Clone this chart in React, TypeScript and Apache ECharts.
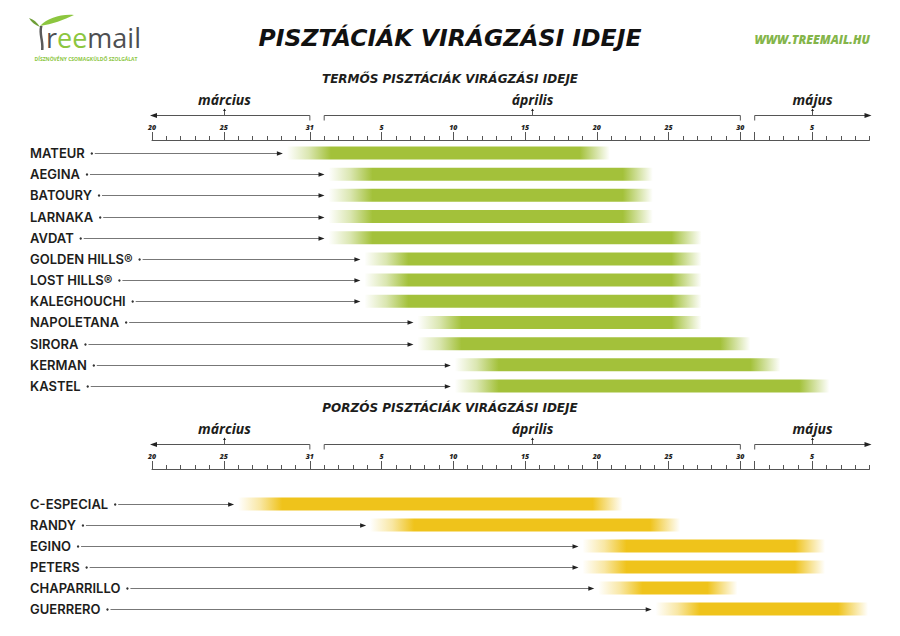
import React, { useEffect, useRef } from "react";
import * as echarts from "echarts";

// Day index 0 = március 20 on the shared time axis
const majorTickDays = [0, 5, 11, 16, 21, 26, 31, 36, 41, 42, 46];
const tickLabelDays = [0, 5, 11, 16, 21, 26, 31, 36, 41, 46];
const tickLabelTexts = ["20", "25", "31", "5", "10", "15", "20", "25", "30", "5"];

const monthNames = ["március", "április", "május"];
const monthFrom = [0, 12, 42];
const monthTo = [11, 41, 50];
const monthMark = [5, 26.5, 46];

const mainTitle = "PISZTÁCIÁK VIRÁGZÁSI IDEJE";
const fertileTitle = "TERMŐS PISZTÁCIÁK VIRÁGZÁSI IDEJE";
const pollenTitle = "PORZÓS PISZTÁCIÁK VIRÁGZÁSI IDEJE";
const website = "WWW.TREEMAIL.HU";
const logoTagline = "DÍSZNÖVÉNY CSOMAGKÜLDŐ SZOLGÁLAT";

const fertileNames = [
  "MATEUR", "AEGINA", "BATOURY", "LARNAKA", "AVDAT", "GOLDEN HILLS®",
  "LOST HILLS®", "KALEGHOUCHI", "NAPOLETANA", "SIRORA", "KERMAN", "KASTEL",
];
const fertileStart = [9.4, 12.3, 12.3, 12.3, 12.3, 14.8, 14.8, 14.8, 18.5, 18.5, 21.1, 21.1];
const fertileEnd = [31.9, 34.9, 34.9, 34.9, 38.3, 38.3, 38.3, 38.3, 38.3, 41.7, 43.8, 47.2];

const pollenNames = ["C-ESPECIAL", "RANDY", "EGINO", "PETERS", "CHAPARRILLO", "GUERRERO"];
const pollenStart = [6.0, 15.2, 30.0, 30.0, 31.1, 35.1];
const pollenEnd = [32.8, 36.8, 46.9, 46.9, 40.8, 49.9];

const FONT = "'Open Sans', 'Noto Sans', sans-serif";
const WIDE = "'DejaVu Sans', 'Open Sans', sans-serif";
const LABEL_FONT = "Inter, 'Open Sans', sans-serif";
const LABEL_X = 30;
const LABEL_SIZE = 13;
const LABEL_WEIGHT = 600;
const GREEN = "163,193,58";
const YELLOW = "239,195,27";
const TOP_BASE = 140;
const BOT_BASE = 469;

let measureCtx: CanvasRenderingContext2D | null = null;
function textWidth(t: string): number {
  if (!measureCtx) measureCtx = document.createElement("canvas").getContext("2d");
  if (!measureCtx) return t.length * 8;
  measureCtx.font = `${LABEL_WEIGHT} ${LABEL_SIZE}px ${LABEL_FONT}`;
  return measureCtx.measureText(t).width;
}

const xAxesFor = (gridIndex: number, offset: number) => [
  {
    type: "value", gridIndex, min: 0, max: 50, interval: 1, position: "top", offset,
    axisLine: { show: true, lineStyle: { color: "#555", width: 1 } },
    axisTick: { show: true, length: 4, lineStyle: { color: "#555" } },
    axisLabel: { show: false },
    splitLine: { show: false },
  },
  {
    type: "value", gridIndex, min: 0, max: 50, interval: 1, position: "top", offset,
    axisLine: { show: false },
    axisTick: { show: true, length: 8, customValues: majorTickDays, lineStyle: { color: "#555" } },
    axisLabel: {
      show: true, customValues: tickLabelDays, margin: 9,
      formatter: (v: number) => { const i = tickLabelDays.indexOf(v); return i >= 0 ? tickLabelTexts[i] : ""; },
      fontSize: 7, fontStyle: "italic", fontWeight: 800, color: "#222", fontFamily: FONT,
    },
    splitLine: { show: false },
  },
];

const yAxisFor = (gridIndex: number, names: string[]) => ({
  type: "category", gridIndex, data: names, inverse: true,
  axisLine: { show: false }, axisTick: { show: false }, splitLine: { show: false },
  axisLabel: {
    align: "left", margin: 122, fontSize: LABEL_SIZE, fontWeight: LABEL_WEIGHT,
    color: "#1d1d1b", fontFamily: LABEL_FONT,
  },
});

const barRender = (rgb: string) => (_p: any, api: any) => {
  const cat = api.value(0);
  const a = api.coord([api.value(1), cat]);
  const b = api.coord([api.value(2), cat]);
  const w = b[0] - a[0];
  const h = 13;
  const fi = Math.min(0.4, 44 / w);
  const fo = Math.min(0.3, 30 / w);
  return {
    type: "rect",
    shape: { x: a[0], y: a[1] - h / 2, width: w, height: h },
    style: {
      fill: new echarts.graphic.LinearGradient(0, 0, 1, 0, [
        { offset: 0, color: `rgba(${rgb},0)` },
        { offset: fi * 0.5, color: `rgba(${rgb},0.4)` },
        { offset: fi, color: `rgba(${rgb},1)` },
        { offset: 1 - fo, color: `rgba(${rgb},1)` },
        { offset: 1 - fo * 0.45, color: `rgba(${rgb},0.45)` },
        { offset: 1, color: `rgba(${rgb},0)` },
      ]),
    },
  };
};

const arrowRender = (names: string[]) => (_p: any, api: any) => {
  const idx = api.value(0);
  const p = api.coord([api.value(1), idx]);
  const y = Math.round(p[1]) + 0.5;
  const x0 = LABEL_X + textWidth(names[idx]) + 7;
  const tip = p[0] - 4;
  return {
    type: "group",
    children: [
      { type: "circle", shape: { cx: x0, cy: y, r: 1.2 }, style: { fill: "#333" } },
      { type: "line", shape: { x1: x0 + 3, y1: y, x2: tip - 4, y2: y }, style: { stroke: "#777", lineWidth: 1 } },
      { type: "polygon", shape: { points: [[tip, y], [tip - 6, y - 2.3], [tip - 6, y + 2.3]] }, style: { fill: "#222" } },
    ],
  };
};

const monthRender = (base: number) => (_p: any, api: any) => {
  const i = api.value(3);
  const xa = api.coord([api.value(0), 0])[0];
  const xb = api.coord([api.value(1), 0])[0];
  const xm = Math.round(api.coord([api.value(2), 0])[0]) + 0.5;
  const ly = base - 25 + 0.5;
  const stroke = { stroke: "#555", lineWidth: 1 };
  const children: any[] = [
    { type: "line", shape: { x1: xa, y1: ly, x2: xb, y2: ly }, style: stroke },
    { type: "line", shape: { x1: xm, y1: ly, x2: xm, y2: ly - 5 }, style: stroke },
    { type: "polygon", shape: { points: [[xm, ly - 7], [xm - 1.5, ly - 4.5], [xm + 1.5, ly - 4.5]] }, style: { fill: "#222" } },
    {
      type: "text", x: xm, y: base - 41,
      style: {
        text: monthNames[i], align: "center", verticalAlign: "middle",
        fontSize: 14, fontStyle: "italic", fontWeight: 700, fill: "#1d1d1b", fontFamily: FONT,
      },
    },
  ];
  if (i === 0) {
    children.push({ type: "polygon", shape: { points: [[xa - 2, ly], [xa + 5, ly - 2.5], [xa + 5, ly + 2.5]] }, style: { fill: "#222" } });
  } else {
    children.push({ type: "line", shape: { x1: xa, y1: ly, x2: xa, y2: ly + 5 }, style: stroke });
  }
  if (i === monthNames.length - 1) {
    children.push({ type: "polygon", shape: { points: [[xb + 2, ly], [xb - 5, ly - 2.5], [xb - 5, ly + 2.5]] }, style: { fill: "#222" } });
  } else {
    children.push({ type: "line", shape: { x1: xb, y1: ly, x2: xb, y2: ly + 5 }, style: stroke });
  }
  return { type: "group", children };
};

const monthData = monthNames.map((_n, i) => [monthFrom[i], monthTo[i], monthMark[i], i]);

echarts.graphic.registerShape(
  "leafRight",
  echarts.graphic.extendPath("M0,11 C8,3 20,-1 34,0 C24,5 12,9 0,11 Z", {})
);
echarts.graphic.registerShape(
  "leafLeft",
  echarts.graphic.extendPath("M11,10 C8,5 4,2 0,1 C2,5 6,8 11,10 Z", {})
);
echarts.graphic.registerShape(
  "stem",
  echarts.graphic.extendPath("M1,0 C-1,8 3,15 2,24 L4.5,24 C5.5,15 1.5,8 3.5,0 Z", {})
);

export default function App() {
  const ref = useRef<HTMLDivElement>(null);
  useEffect(() => {
    if (!ref.current) return;
    const chart = echarts.init(ref.current, undefined, { renderer: "svg" });
    const option: any = {
      animation: false,
      backgroundColor: "#ffffff",
      grid: [
        { left: 152, right: 30.5, top: 142.4, height: 254.2 },
        { left: 152, right: 30.5, top: 493.5, height: 126 },
      ],
      xAxis: [...xAxesFor(0, 142.4 - TOP_BASE), ...xAxesFor(1, 493.5 - BOT_BASE)],
      yAxis: [yAxisFor(0, fertileNames), yAxisFor(1, pollenNames)],
      graphic: [
        {
          type: "text", x: 450, y: 38,
          style: {
            text: mainTitle, align: "center", verticalAlign: "middle",
            fontSize: 23.5, fontStyle: "italic", fontWeight: 700, fill: "#111", fontFamily: WIDE,
          },
        },
        {
          type: "text", x: 450, y: 79,
          style: {
            text: fertileTitle, align: "center", verticalAlign: "middle",
            fontSize: 12, fontStyle: "italic", fontWeight: 700, fill: "#1d1d1b", fontFamily: WIDE,
          },
        },
        {
          type: "text", x: 450, y: 408,
          style: {
            text: pollenTitle, align: "center", verticalAlign: "middle",
            fontSize: 12, fontStyle: "italic", fontWeight: 700, fill: "#1d1d1b", fontFamily: WIDE,
          },
        },
        {
          type: "text", x: 870, y: 39,
          style: {
            text: website, align: "right", verticalAlign: "middle",
            fontSize: 12, fontStyle: "italic", fontWeight: 800, fill: "#84b54a", fontFamily: FONT,
          },
        },
        { type: "stem", x: 39, y: 26, style: { fill: "#5a5a5a" } },
        { type: "leafRight", x: 40, y: 15, style: { fill: "#8cc63f" } },
        { type: "leafLeft", x: 29, y: 17, style: { fill: "#6e9e37" } },
        {
          type: "text", x: 46, y: 51,
          style: {
            text: "{a|r}{b|ee}{a|mail}", verticalAlign: "bottom", fontFamily: FONT,
            rich: {
              a: { fontSize: 27, fill: "#4e4f51", fontFamily: FONT, fontWeight: 400 },
              b: { fontSize: 27, fill: "#8cc63f", fontFamily: FONT, fontWeight: 400 },
            },
          },
        },
        {
          type: "text", x: 86, y: 59,
          style: {
            text: logoTagline, align: "center", verticalAlign: "middle",
            fontSize: 5, fontWeight: 700, fill: "#8cc63f", fontFamily: FONT,
          },
        },
      ],
      series: [
        {
          type: "custom", xAxisIndex: 0, yAxisIndex: 0,
          renderItem: barRender(GREEN),
          encode: { x: [1, 2], y: 0 },
          data: fertileNames.map((_n, i) => [i, fertileStart[i], fertileEnd[i]]),
        },
        {
          type: "custom", xAxisIndex: 0, yAxisIndex: 0,
          renderItem: arrowRender(fertileNames),
          encode: { x: 1, y: 0 },
          data: fertileNames.map((_n, i) => [i, fertileStart[i]]),
        },
        {
          type: "custom", xAxisIndex: 0, yAxisIndex: 0,
          renderItem: monthRender(TOP_BASE),
          encode: { x: [0, 1, 2], y: 3 },
          data: monthData,
        },
        {
          type: "custom", xAxisIndex: 2, yAxisIndex: 1,
          renderItem: barRender(YELLOW),
          encode: { x: [1, 2], y: 0 },
          data: pollenNames.map((_n, i) => [i, pollenStart[i], pollenEnd[i]]),
        },
        {
          type: "custom", xAxisIndex: 2, yAxisIndex: 1,
          renderItem: arrowRender(pollenNames),
          encode: { x: 1, y: 0 },
          data: pollenNames.map((_n, i) => [i, pollenStart[i]]),
        },
        {
          type: "custom", xAxisIndex: 2, yAxisIndex: 1,
          renderItem: monthRender(BOT_BASE),
          encode: { x: [0, 1, 2], y: 3 },
          data: monthData,
        },
      ],
    };
    chart.setOption(option);
    return () => chart.dispose();
  }, []);
  return (
    <div
      ref={ref}
      style={{ position: "absolute", left: 0, top: 0, width: 900, height: 636, background: "#fff" }}
    />
  );
}
